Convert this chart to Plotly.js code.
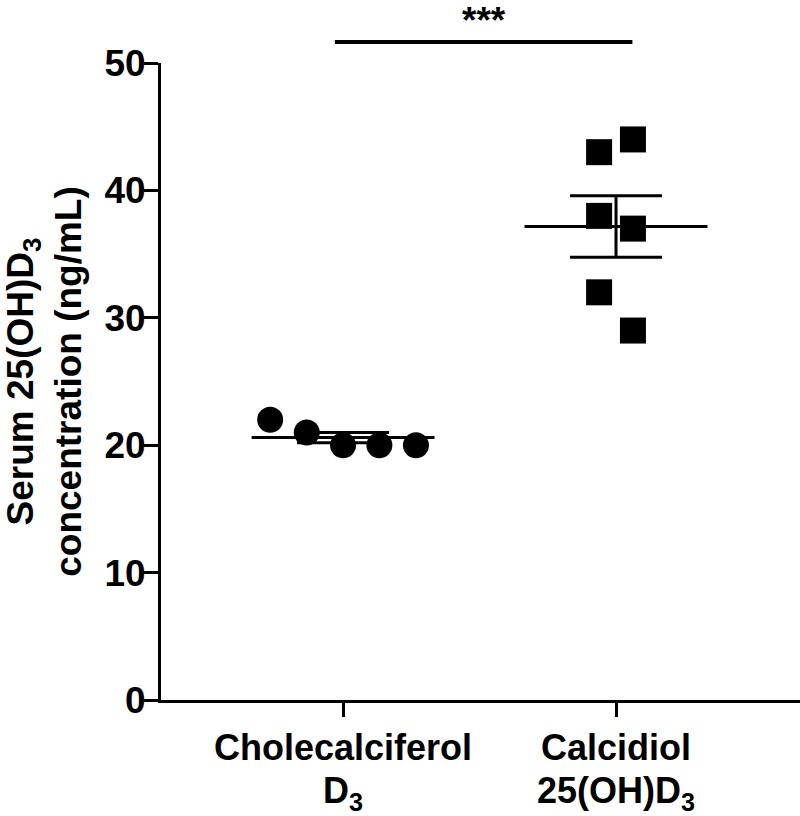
<!DOCTYPE html>
<html>
<head>
<meta charset="utf-8">
<script src="https://cdn.plot.ly/plotly-3.0.1.min.js"></script>
<style>html,body{margin:0;padding:0;background:#fff;}#chart{width:800px;height:816px;}</style>
</head>
<body>
<div id="chart"></div>
<script>
// ---- data ----
const categories = ['Cholecalciferol', 'Calcidiol'];
const categorySub = ['D<sub>3</sub>', '25(OH)D<sub>3</sub>'];
const cholecalciferolValues = [22, 21, 20, 20, 20];
const calcidiolValues = [43, 44, 38, 37, 32, 29];
const yTickVals = [0, 10, 20, 30, 40, 50];
const sigLabel = '***';

// ---- layout helpers (positions, not data) ----
const groupPos = [1, 2];
const cholOffsets = [-0.267, -0.133, 0, 0.133, 0.267];
const calcOffsets = [-0.062, 0.062, -0.062, 0.062, -0.062, 0.062];
const xRange = [0.333, 2.674];
const yRange = [0, 50];
const FONT = {family: 'Liberation Sans, Arial, sans-serif', color: '#000', weight: 700};

function mean(a){return a.reduce((s,v)=>s+v,0)/a.length;}
function sem(a){const m=mean(a);const v=a.reduce((s,x)=>s+(x-m)*(x-m),0)/(a.length-1);return Math.sqrt(v/a.length);}

const groups = [
  {vals: cholecalciferolValues, offs: cholOffsets, symbol: 'circle'},
  {vals: calcidiolValues, offs: calcOffsets, symbol: 'square'}
];

const traces = [];
groups.forEach((g, i) => {
  traces.push({
    type: 'scatter', mode: 'markers',
    x: g.vals.map((v, k) => groupPos[i] + g.offs[k]),
    y: g.vals,
    marker: {symbol: g.symbol, size: 26, color: '#000', line: {width: 0}},
    cliponaxis: false, hoverinfo: 'y', showlegend: false
  });
});
groups.forEach((g, i) => {
  const m = mean(g.vals);
  traces.push({
    type: 'scatter', mode: 'lines',
    x: [groupPos[i] - 0.335, groupPos[i] + 0.335], y: [m, m],
    line: {color: '#000', width: 3}, hoverinfo: 'skip', showlegend: false
  });
  traces.push({
    type: 'scatter', mode: 'markers',
    x: [groupPos[i]], y: [m],
    marker: {size: 1, color: 'rgba(0,0,0,0)'},
    error_y: {type: 'data', array: [sem(g.vals)], visible: true, color: '#000', thickness: 3, width: 46},
    hoverinfo: 'skip', showlegend: false
  });
});

function toPaperX(x){return (x - xRange[0]) / (xRange[1] - xRange[0]);}
function toPaperY(y){return (y - yRange[0]) / (yRange[1] - yRange[0]);}

const sigY = 51.65, sigX0 = 0.97, sigX1 = 2.06;

const annotations = categorySub.map((t, i) => ({
  xref: 'x', yref: 'paper', x: groupPos[i], y: 0, yanchor: 'top', xanchor: 'center',
  yshift: -68, text: t, showarrow: false, font: Object.assign({size: 36}, FONT)
}));
annotations.push({
  xref: 'paper', yref: 'paper', x: toPaperX((sigX0 + sigX1) / 2), y: toPaperY(sigY), yanchor: 'bottom',
  yshift: -1, text: sigLabel, showarrow: false, font: Object.assign({size: 37}, FONT)
});

const layout = {
  width: 800, height: 816,
  margin: {l: 161, r: 0, t: 63, b: 116},
  paper_bgcolor: '#fff', plot_bgcolor: '#fff',
  font: Object.assign({size: 36}, FONT),
  xaxis: {
    range: xRange, showgrid: false, zeroline: false,
    showline: true, linecolor: '#000', linewidth: 3,
    ticks: 'outside', ticklen: 14, tickwidth: 3, tickcolor: '#000',
    tickvals: groupPos, ticktext: categories,
    tickfont: Object.assign({size: 36}, FONT)
  },
  yaxis: {
    range: yRange, showgrid: false, zeroline: false,
    showline: true, linecolor: '#000', linewidth: 3,
    ticks: 'outside', ticklen: 14, tickwidth: 3, tickcolor: '#000',
    tickvals: yTickVals, ticktext: yTickVals.map(String),
    ticklabelstandoff: -9,
    tickfont: Object.assign({size: 37}, FONT),
    title: {text: 'Serum 25(OH)D<sub>3</sub><br>concentration (ng/mL)', standoff: 27,
            font: Object.assign({size: 37}, FONT)}
  },
  shapes: [{
    type: 'line', xref: 'paper', yref: 'paper',
    x0: toPaperX(sigX0), x1: toPaperX(sigX1), y0: toPaperY(sigY), y1: toPaperY(sigY),
    line: {color: '#000', width: 4}
  }],
  annotations: annotations,
  showlegend: false
};

Plotly.newPlot('chart', traces, layout, {displayModeBar: false, staticPlot: true});
</script>
</body>
</html>
